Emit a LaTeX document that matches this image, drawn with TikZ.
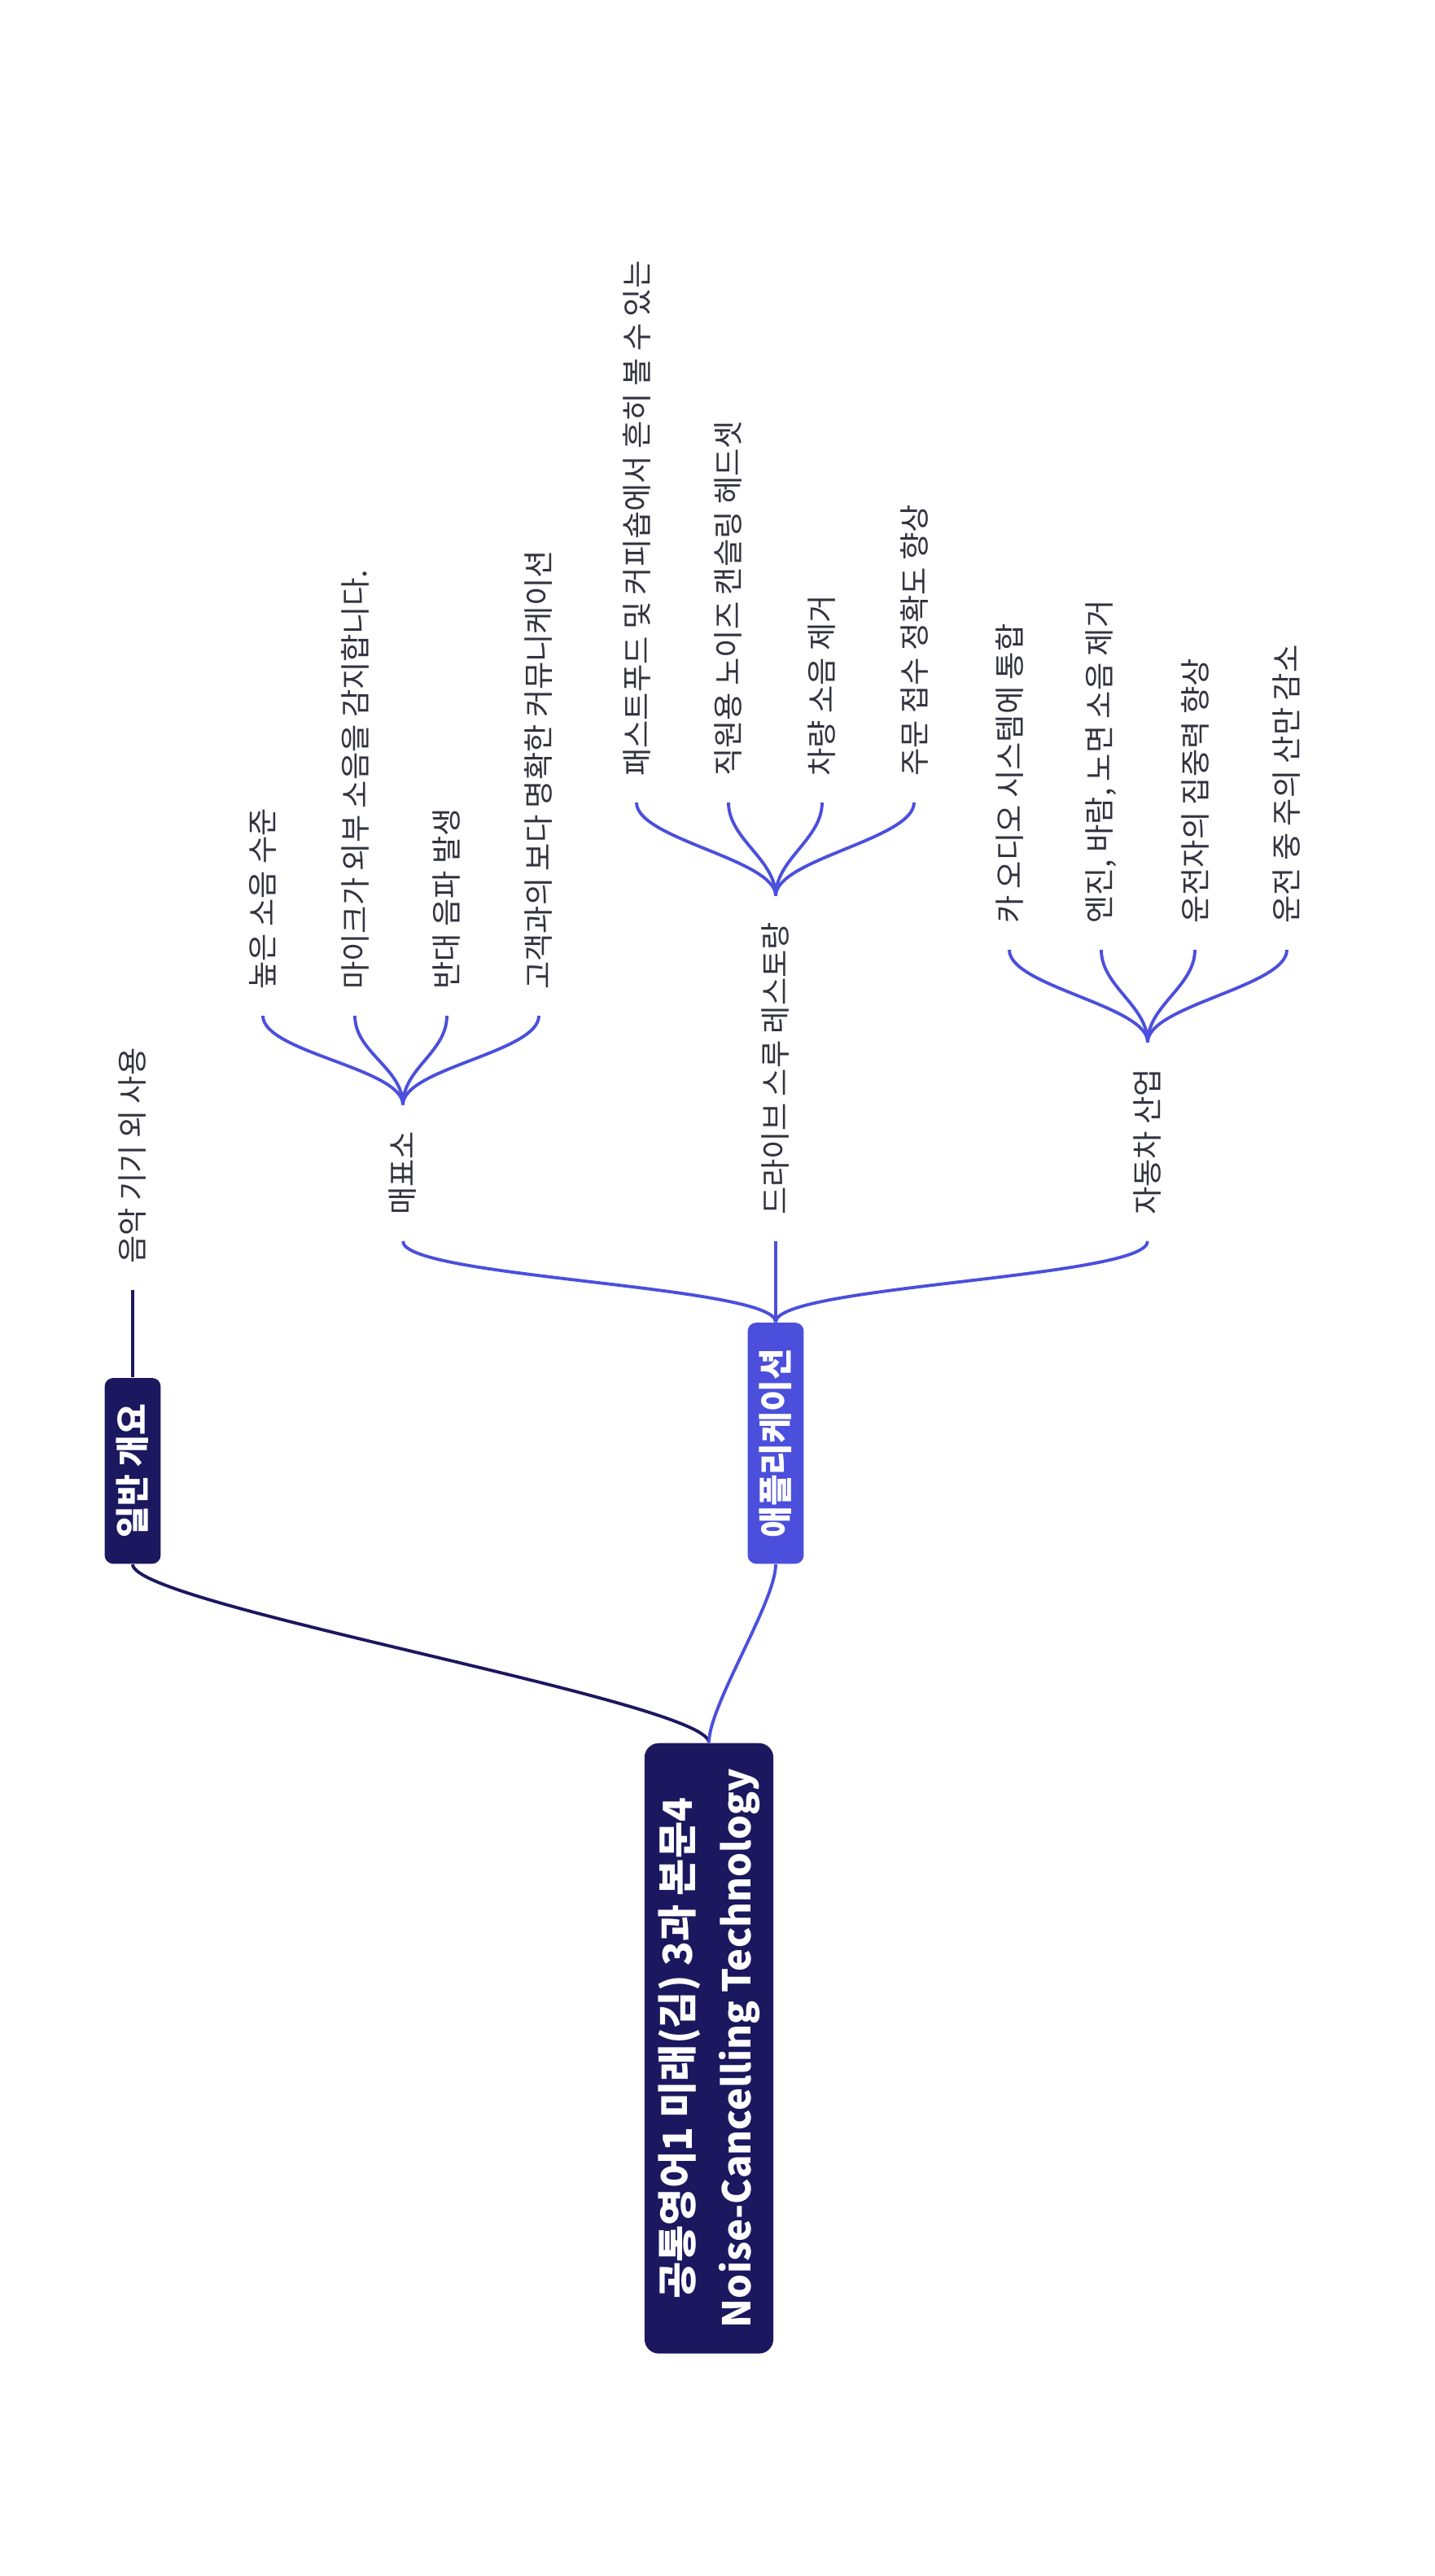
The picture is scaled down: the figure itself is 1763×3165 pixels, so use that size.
\documentclass[tikz,border=0pt]{standalone}
\usepackage{fontspec}
\setmainfont{Noto Sans CJK KR}
\definecolor{navy}{HTML}{1B1860}
\definecolor{appblue}{HTML}{4B4FDC}
\definecolor{leafgray}{HTML}{333340}
\tikzset{
  mapnode/.style={rotate=90},
  rootbox/.style={mapnode, anchor=east, fill=navy, text=white, rounded corners=5pt,
    minimum height=45pt, inner xsep=9pt, align=center,
    font=\bfseries\fontsize{14pt}{20.5pt}\selectfont},
  topicbox/.style={mapnode, anchor=west, fill=#1, text=white, rounded corners=3pt,
    minimum height=19.6pt, inner xsep=9pt,
    font=\bfseries\fontsize{12pt}{14pt}\selectfont},
  leaf/.style={mapnode, anchor=west, inner xsep=9pt, text=leafgray,
    font=\fontsize{10.6pt}{12pt}\selectfont},
  branch/.style={line width=1.1pt, draw=#1},
}
\begin{document}
\begin{tikzpicture}[x=0.01cm, y=-0.01cm]
  \useasboundingbox (0,0) rectangle (1763,3165);

  \node[rootbox] (root) at (871,2141) {공통영어1 미래(김) 3과 본문4\\{\fontsize{13.4pt}{20.5pt}\selectfont Noise-Cancelling Technology}};

  \node[topicbox=navy] (gen) at (163,1922) {일반 개요};
  \node[topicbox=appblue] (app) at (953,1922) {애플리케이션};

  \node[leaf] (music) at (163,1585) {음악 기기 외 사용};

  \node[leaf] (ticket) at (495,1525) {매표소};
  \node[leaf] (drive) at (953,1525) {드라이브 스루 레스토랑};
  \node[leaf] (car) at (1410,1525) {자동차 산업};

  % ticket office
  \node[leaf] (t1) at (323,1248) {높은 소음 수준};
  \node[leaf] (t2) at (436,1248) {마이크가 외부 소음을 감지합니다.};
  \node[leaf] (t3) at (549,1248) {반대 음파 발생};
  \node[leaf] (t4) at (662,1248) {고객과의 보다 명확한 커뮤니케이션};

  % drive-thru
  \node[leaf] (d1) at (782,986) {패스트푸드 및 커피숍에서 흔히 볼 수 있는};
  \node[leaf] (d2) at (895,986) {직원용 노이즈 캔슬링 헤드셋};
  \node[leaf] (d3) at (1010,986) {차량 소음 제거};
  \node[leaf] (d4) at (1123,986) {주문 접수 정확도 향상};

  % car industry
  \node[leaf] (c1) at (1240,1167) {카 오디오 시스템에 통합};
  \node[leaf] (c2) at (1353,1167) {엔진, 바람, 노면 소음 제거};
  \node[leaf] (c3) at (1468,1167) {운전자의 집중력 향상};
  \node[leaf] (c4) at (1581,1167) {운전 중 주의 산만 감소};

  \draw[branch=navy] (root.east) .. controls +(0,-50) and +(0,50) .. (gen.west);
  \draw[branch=appblue] (root.east) .. controls +(0,-46) and +(0,46) .. (app.west);
  \draw[branch=navy] (gen.east) -- (music.west);

  \foreach \c in {ticket,drive,car}
    \draw[branch=appblue] (app.east) .. controls +(0,-45) and +(0,45) .. (\c.west);

  \foreach \p/\c in {ticket/t1,ticket/t2,ticket/t3,ticket/t4,
                     drive/d1,drive/d2,drive/d3,drive/d4,
                     car/c1,car/c2,car/c3,car/c4}
    \draw[branch=appblue] (\p.east) .. controls +(0,-45) and +(0,45) .. (\c.west);
\end{tikzpicture}
\end{document}
